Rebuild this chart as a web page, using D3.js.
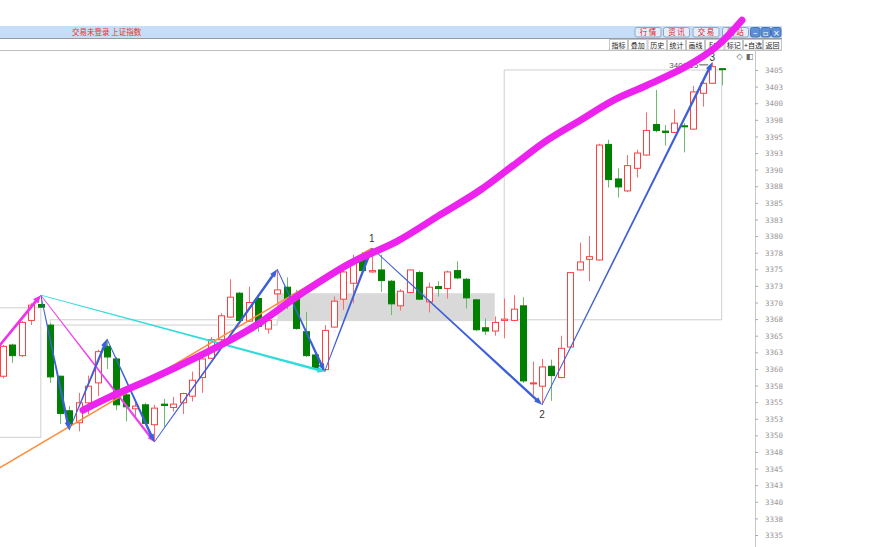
<!DOCTYPE html>
<html><head><meta charset="utf-8">
<script src="https://cdn.jsdelivr.net/npm/d3@7"></script>
<style>body{margin:0;background:#fff;overflow:hidden}svg{display:block}</style>
</head><body><svg id="c" width="883" height="547"></svg>
<script>
// ---------- data ----------
const opens  = [3358.9,3363.6,3362.0,3367.3,3369.7,3366.6,3358.9,3353.7,3351.9,3354.9,3357.9,3363.4,3361.5,3356.1,3354.0,3354.6,3351.6,3354.7,3354.2,3354.9,3355.9,3358.7,3361.6,3364.4,3367.8,3371.4,3367.2,3370.6,3366.0,3371.3,3372.3,3370.5,3365.6,3362.1,3359.9,3366.3,3370.5,3372.9,3376.7,3374.6,3374.9,3373.2,3369.5,3371.5,3374.5,3370.1,3372.4,3372.1,3374.8,3373.5,3370.4,3366.2,3365.7,3367.3,3367.3,3369.5,3357.8,3357.4,3360.4,3358.7,3363.3,3374.9,3376.5,3376.4,3393.8,3388.6,3386.8,3390.2,3392.2,3396.8,3395.8,3395.6,3396.6,3396.1,3401.5,3403.0,3405.2];
const highs  = [3363.6,3363.8,3367.2,3369.9,3371.1,3366.9,3359.0,3354.4,3356.4,3359.0,3362.9,3364.5,3361.8,3356.4,3355.2,3354.9,3354.6,3355.5,3355.8,3356.4,3359.6,3361.7,3364.8,3368.4,3373.5,3371.6,3372.4,3371.0,3367.7,3375.0,3373.8,3371.9,3368.6,3362.3,3366.6,3370.9,3375.9,3377.2,3377.6,3378.2,3377.2,3373.4,3372.0,3375.0,3374.8,3373.0,3373.2,3374.8,3376.2,3373.7,3370.5,3367.6,3367.9,3370.6,3371.1,3370.8,3361.1,3361.5,3361.4,3365.0,3374.6,3379.0,3380.0,3393.9,3394.5,3390.2,3392.2,3393.0,3398.6,3402.0,3396.7,3399.1,3397.0,3402.6,3403.2,3406.15,3405.2];
const lows   = [3358.6,3360.9,3361.8,3366.6,3369.2,3357.9,3351.7,3350.8,3350.6,3353.2,3355.9,3360.0,3353.8,3352.1,3352.6,3351.7,3349.0,3351.3,3353.6,3353.2,3355.1,3356.4,3361.5,3364.2,3367.7,3367.2,3367.1,3365.6,3365.3,3369.6,3369.0,3365.9,3361.8,3359.9,3359.6,3366.2,3368.9,3369.9,3374.6,3374.5,3371.6,3368.1,3368.8,3371.4,3370.4,3368.5,3370.9,3370.6,3373.5,3369.1,3365.7,3365.1,3365.0,3364.6,3367.2,3357.9,3356.1,3354.6,3355.2,3358.6,3363.2,3374.8,3373.2,3376.3,3387.3,3385.8,3386.6,3388.8,3392.1,3395.6,3393.6,3395.5,3392.6,3396.0,3399.5,3402.9,3402.7];
const closes = [3363.4,3362.0,3367.0,3369.6,3369.3,3358.8,3353.3,3351.7,3354.9,3357.4,3362.6,3361.8,3354.6,3354.3,3354.4,3351.8,3354.1,3354.5,3354.7,3356.3,3358.3,3361.5,3364.4,3368.0,3370.8,3367.3,3370.0,3366.4,3367.3,3371.9,3370.6,3366.1,3362.0,3360.1,3365.8,3370.2,3374.6,3376.4,3374.8,3374.8,3373.3,3369.8,3371.7,3374.9,3370.5,3372.3,3372.1,3374.6,3373.7,3370.7,3365.9,3365.7,3367.0,3367.5,3369.0,3358.2,3357.9,3360.3,3359.0,3363.1,3374.5,3376.1,3376.9,3393.7,3388.5,3387.4,3390.6,3392.5,3395.9,3395.9,3395.6,3397.0,3396.5,3401.7,3403.0,3405.5,3405.1];
const candleIndex = d3.range(opens.length);

const tickValues = [3335,3337.5,3340,3342.5,3345,3347.5,3350,3352.5,3355,3357.5,3360,3362.5,3365,3367.5,3370,3372.5,3375,3377.5,3380,3382.5,3385,3387.5,3390,3392.5,3395,3397.5,3400,3402.5,3405];
const tickLabels = ["3335","3338","3340","3343","3345","3348","3350","3353","3355","3358","3360","3363","3365","3368","3370","3373","3375","3378","3380","3383","3385","3388","3390","3393","3395","3398","3400","3403","3405"];

// wave pivots (candle index, H = high / L = low)
const waveIdx  = [4,7,11,16,29,34,39,57,75];
const waveKind = ["H","L","H","L","H","L","H","L","H"];
const waveLabelIdx = [39,57,75];
const waveLabelText = ["1","2","3"];

// hand-drawn magenta trend stroke (candle index, price)
const trendIdx   = [8.46,11.31,15.54,20.83,26.12,31.40,36.69,41.66,46.0,50.44,53.93,57.52,61.01,64.50,68.10,72.33,75.5,78.14];
const trendPrice = [3353.8,3355.8,3358.4,3362.0,3366.0,3371.2,3375.9,3379.2,3383.0,3386.9,3390.6,3394.4,3397.4,3400.4,3402.7,3405.6,3408.6,3412.5];

// orange line start (index, price) -> ends at pivot 1
const orangeStart = [-0.5, 3345.0];
// magenta thick up-arrow start
const magStart = [-0.5, 3363.3];

// boxes: [idx0, idx1, priceLow, priceHigh]
const boxA = [-1, 4, 3349.7, 3369.2];
const boxB = [5, 29, 3366.6, 3367.4];
const zoneC = [29, 52, 3367.2, 3371.4];
const boxD = [53, 76, 3367.4, 3405.0];

// ---------- drawing ----------
const svg = d3.select("#c");
const x = d3.scaleLinear().domain([0, 76]).range([3, 721.7]);
const y = d3.scaleLinear().domain([3335, 3405]).range([535, 70]);

svg.append("rect").attr("width",883).attr("height",547).attr("fill","#fff");

svg.append("defs").append("clipPath").attr("id","plot")
  .append("rect").attr("x",0).attr("y",51).attr("width",754).attr("height",496);
const g = svg.append("g").attr("clip-path","url(#plot)");

function boxRect(b, stroke, fill) {
  g.append("rect")
    .attr("x", x(b[0])).attr("y", y(b[3]))
    .attr("width", x(b[1]) - x(b[0])).attr("height", y(b[2]) - y(b[3]))
    .attr("fill", fill || "none").attr("stroke", stroke || "none").attr("stroke-width", 1);
}
boxRect(boxA, "#d0d0d0");
boxRect(boxB, "#d0d0d0");
boxRect(zoneC, null, "#d9d9d9");
boxRect(boxD, "#d0d0d0");

// candles
const cw = 6;
const cg = g.append("g");
cg.selectAll("line.wick").data(candleIndex).join("line")
  .attr("x1", i => Math.round(x(i)) + 0.5).attr("x2", i => Math.round(x(i)) + 0.5)
  .attr("y1", i => y(highs[i])).attr("y2", i => y(lows[i]))
  .attr("stroke", i => closes[i] >= opens[i] ? "#ff6a6a" : "#6cbb6c").attr("stroke-width", 1);
cg.selectAll("rect.body").data(candleIndex).join("rect")
  .attr("x", i => Math.round(x(i)) - cw/2 + 0.5)
  .attr("y", i => y(Math.max(opens[i], closes[i])))
  .attr("width", cw)
  .attr("height", i => Math.max(1, Math.abs(y(opens[i]) - y(closes[i]))))
  .attr("fill", i => closes[i] >= opens[i] ? "#fff" : "#008000")
  .attr("stroke", i => closes[i] >= opens[i] ? "#ff4040" : "#008000")
  .attr("stroke-width", 1);

// tapered arrow helper
function arrow(p0, p1, color, w0, w1, hl, hw, parent) {
  const dx = p1[0]-p0[0], dy = p1[1]-p0[1], L = Math.hypot(dx, dy);
  const ux = dx/L, uy = dy/L, nx = -uy, ny = ux;
  const bx = p1[0]-ux*hl, by = p1[1]-uy*hl;
  const pts = [[p0[0]+nx*w0/2, p0[1]+ny*w0/2],[bx+nx*w1/2, by+ny*w1/2],[bx+nx*hw/2, by+ny*hw/2],
    [p1[0], p1[1]],[bx-nx*hw/2, by-ny*hw/2],[bx-nx*w1/2, by-ny*w1/2],[p0[0]-nx*w0/2, p0[1]-ny*w0/2]];
  (parent || g).append("polygon").attr("points", pts.map(p => p.join(",")).join(" ")).attr("fill", color);
}
const pv = k => [x(waveIdx[k]), y(waveKind[k] === "H" ? highs[waveIdx[k]] : lows[waveIdx[k]])];

// orange line
g.append("line")
  .attr("x1", x(orangeStart[0])).attr("y1", y(orangeStart[1]))
  .attr("x2", pv(6)[0]).attr("y2", pv(6)[1])
  .attr("stroke", "#ff8c3a").attr("stroke-width", 1.5);

// cyan line
arrow(pv(0), pv(5), "#2fdcdc", 0.8, 2.4, 7, 6);
// thin magenta
arrow(pv(0), pv(3), "#ee44ee", 0.8, 2.6, 7, 6);
// thick magenta up arrow
arrow([x(magStart[0]), y(magStart[1])], pv(0), "#ee33ee", 2.5, 3, 8, 7);

// blue zigzag
for (let k = 0; k < waveIdx.length - 1; k++) {
  arrow(pv(k), pv(k+1), "#3d5fd9", 0.8, 2.6, 8, 6);
}

// wave labels
waveLabelIdx.forEach((wi, j) => {
  const k = waveIdx.indexOf(wi);
  const p = pv(k);
  const dy = waveKind[k] === "H" ? (j === 2 ? -1 : -6) : 13;
  svg.append("text").attr("x", p[0]).attr("y", p[1] + dy)
    .attr("text-anchor", "middle").attr("font-family", "Liberation Sans, Arial, sans-serif")
    .attr("font-size", 10).attr("fill", "#333").text(waveLabelText[j]);
});
// max price label
{
  const p = pv(8);
  svg.append("text").attr("x", p[0] - 14).attr("y", p[1] + 6)
    .attr("text-anchor", "end").attr("font-family", "Liberation Sans, Arial, sans-serif")
    .attr("font-size", 8).attr("fill", "#555").text(d3.format(".2f")(highs[75]));
  svg.append("line").attr("x1", p[0] - 13).attr("x2", p[0] - 4)
    .attr("y1", p[1] + 2.5).attr("y2", p[1] + 2.5).attr("stroke", "#555").attr("stroke-width", 1);
}

// y axis
svg.append("line").attr("x1", 755.5).attr("x2", 755.5).attr("y1", 51).attr("y2", 547)
  .attr("stroke", "#c8c8c8");
const ax = svg.append("g").attr("transform", "translate(755,0)")
  .call(d3.axisRight(y).tickValues(tickValues).tickFormat((d, i) => tickLabels[i]).tickSize(3).tickPadding(7));
ax.select(".domain").remove();
ax.selectAll("line").attr("stroke", "#aaa");
ax.selectAll("text").attr("fill", "#999").attr("font-size", 7.5)
  .attr("font-family", "DejaVu Sans Mono, monospace").attr("dy", "0.35em");

// ---------- window chrome ----------
const cjk = "Noto Sans CJK SC, sans-serif";
svg.append("rect").attr("x", 0).attr("y", 26).attr("width", 782).attr("height", 12).attr("fill", "#c5ddf6");
svg.append("line").attr("x1", 0).attr("x2", 782).attr("y1", 38.5).attr("y2", 38.5).attr("stroke", "#9a9a9a");
svg.append("line").attr("x1", 0).attr("x2", 782).attr("y1", 50.5).attr("y2", 50.5).attr("stroke", "#bdbdbd");
svg.append("text").attr("x", 72).attr("y", 35).attr("font-family", cjk).attr("font-size", 7.5)
  .attr("fill", "#e8302a").text("交易未登录 上证指数");

const topBtns = ["行 情", "资 讯", "交 易", "网 站"];
const topBtnX = [635, 663.5, 693, 722.5];
topBtns.forEach((t, i) => {
  svg.append("rect").attr("x", topBtnX[i]).attr("y", 27.5).attr("width", 26).attr("height", 9.5).attr("rx", 2)
    .attr("fill", "#e4eef9").attr("stroke", "#8fa7c4");
  svg.append("text").attr("x", topBtnX[i] + 13).attr("y", 35.3).attr("text-anchor", "middle")
    .attr("font-family", cjk).attr("font-size", 7.5).attr("fill", "#e0201c").text(t);
});
const winX = [750.5, 761, 771.5];
const winGlyph = ["–", "▫", "×"];
winX.forEach((wx, i) => {
  svg.append("rect").attr("x", wx).attr("y", 27.5).attr("width", 9.5).attr("height", 9.5).attr("rx", 2)
    .attr("fill", "#5d8fd6").attr("stroke", "#4a74b0");
  svg.append("text").attr("x", wx + 4.75).attr("y", 35.5).attr("text-anchor", "middle")
    .attr("font-family", "DejaVu Sans, sans-serif").attr("font-size", 8).attr("fill", "#fff").text(winGlyph[i]);
});
const tools = ["指标", "叠加", "历史", "统计", "画线", "F10", "标记", "+自选", "返回"];
const toolX = [609, 628, 647.5, 667, 686, 705, 724.5, 743, 763];
const toolW = [19, 19.5, 19.5, 19, 19, 19.5, 18.5, 20, 19];
tools.forEach((t, i) => {
  svg.append("rect").attr("x", toolX[i] + 0.5).attr("y", 39.5).attr("width", toolW[i] - 1).attr("height", 10.5)
    .attr("fill", "#fff").attr("stroke", "#c4c4c4");
  svg.append("text").attr("x", toolX[i] + toolW[i] / 2).attr("y", 47.8).attr("text-anchor", "middle")
    .attr("font-family", cjk).attr("font-size", 7).attr("fill", "#222").text(t);
});
svg.append("text").attr("x", 739.5).attr("y", 59).attr("text-anchor", "middle")
  .attr("font-family", "DejaVu Sans, sans-serif").attr("font-size", 8).attr("fill", "#666").text("◇");
svg.append("text").attr("x", 749.5).attr("y", 59).attr("text-anchor", "middle")
  .attr("font-family", "DejaVu Sans, sans-serif").attr("font-size", 8).attr("fill", "#666").text("◧");

// magenta hand-drawn trend stroke on top
svg.append("path")
  .attr("d", d3.line().x((d, i) => x(trendIdx[i])).y((d, i) => y(trendPrice[i])).curve(d3.curveCatmullRom)(trendIdx))
  .attr("fill", "none").attr("stroke", "#ee22ee").attr("stroke-width", 7)
  .attr("stroke-linecap", "round").attr("stroke-linejoin", "round");
</script>
</body></html>
